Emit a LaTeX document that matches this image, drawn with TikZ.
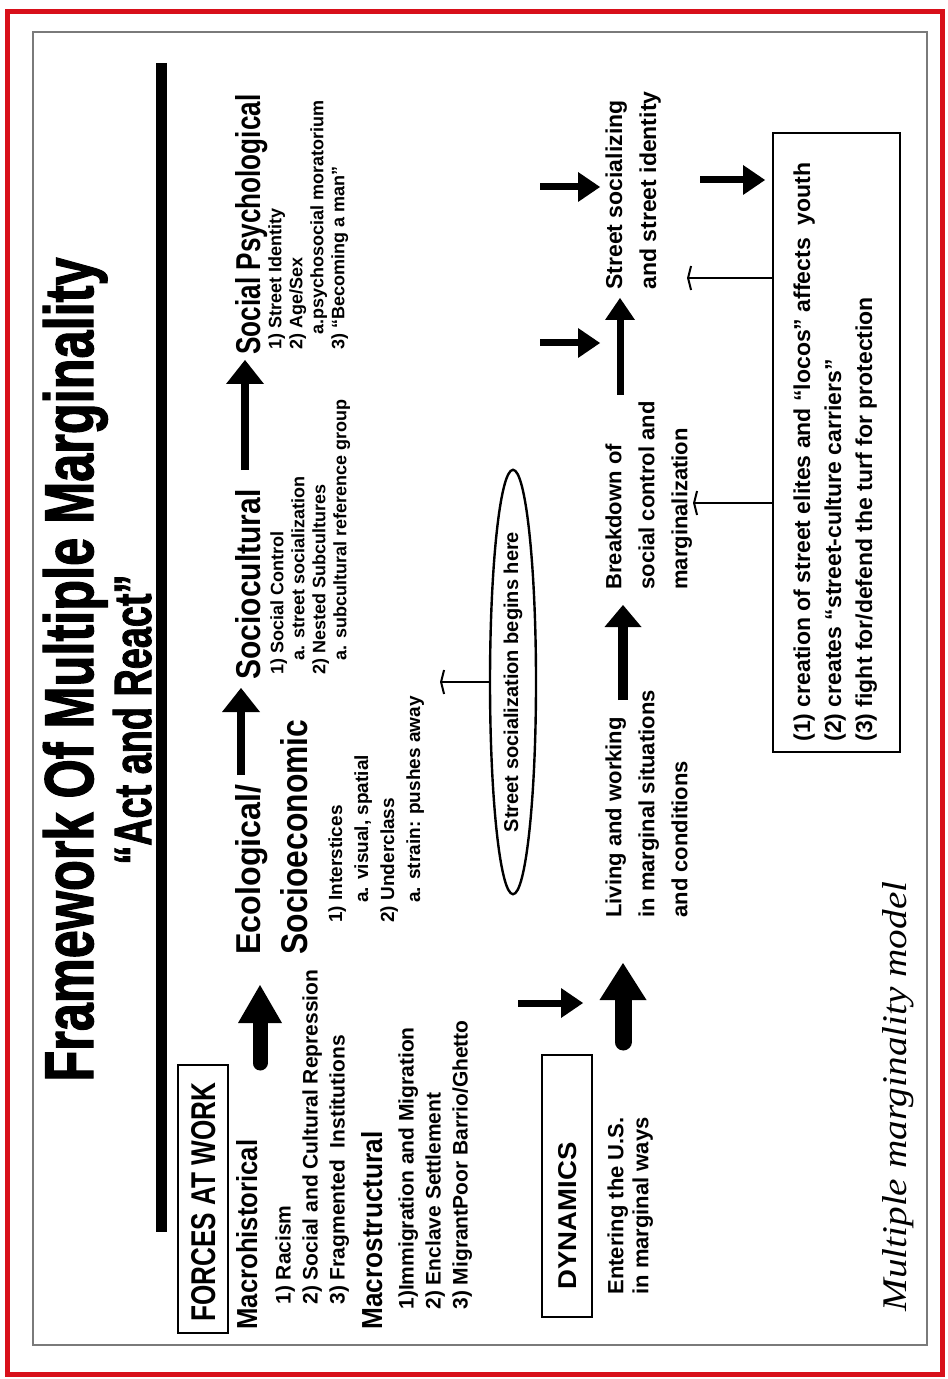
\documentclass[tikz,border=0pt]{standalone}
\usepackage{fontspec}
\setsansfont{Liberation Sans}
\newfontfamily\heavyfont{Liberation Sans}[FakeBold=2]
\newfontfamily\capfont{Liberation Serif}
\usepackage{graphicx}
\usetikzlibrary{arrows.meta,shapes.geometric}
\definecolor{framered}{HTML}{D8101A}
\definecolor{framegray}{HTML}{7A7A7A}
\tikzset{
  rot/.style={rotate=90, inner sep=0pt},
  head/.style={rot, anchor=base west},
  list/.style={rot, anchor=north west, align=left},
  fs/.style 2 args={font=\sffamily\bfseries\fontsize{#1}{#2}\selectfont},
  boxst/.style={draw, line width=1.3pt, rotate=90, inner sep=0pt},
  bigarrow/.style={line width=7.5pt, line cap=round, -{Triangle[width=22pt,length=19pt,line width=0pt]}},
  dynarrow/.style={line width=8.5pt, line cap=round, -{Triangle[width=23.5pt,length=18.5pt,line width=0pt]}},
  midarrow/.style={line width=4pt, -{Triangle[width=19pt,length=12pt,line width=0pt]}},
  livarrow/.style={line width=5pt, -{Triangle[width=18.5pt,length=11pt,line width=0pt]}},
  thinarrow/.style={line width=3.5pt, -{Triangle[width=15pt,length=11pt,line width=0pt]}},
  teearrow/.style={line width=1pt, -{Straight Barb[width=12pt,length=1.5pt]}}
}
\begin{document}
\begin{tikzpicture}[x=0.5pt,y=-0.5pt,font=\sffamily\bfseries]
\useasboundingbox (0,0) rectangle (947,1379);
\fill[white] (0,0) rectangle (947,1379);
\draw[framered, line width=2.5pt] (7,12) rectangle (942,1374);
\draw[framegray, line width=1pt] (33,32) rectangle (927,1345);
\draw[line width=5.5pt] (161,63) -- (161,1232);

% title
\node[head] (title) at (93,1082) {\resizebox{412pt}{25pt}{\heavyfont\bfseries Framework Of Multiple Marginality}};
\node[head] (subtitle) at (151,865) {\resizebox{145pt}{19pt}{\heavyfont\bfseries “Act and React”}};

% forces at work
\node[boxst, minimum width=134pt, minimum height=25pt] (forcesbox) at (203,1199) {};
\node[head] (forces) at (215,1322) {\resizebox{119.5pt}{12pt}{FORCES AT WORK}};
\node[head] (macroh) at (257,1330) {\resizebox{95pt}{10.5pt}{Macrohistorical}};
\node[list, fs={10.5pt}{13.5pt}] (histitems) at (275,1305) {1) Racism\\2) Social and Cultural Repression\\3) Fragmented\ \ Institutions};
\node[head] (macros) at (382,1330) {\resizebox{99pt}{10.5pt}{Macrostructural}};
\node[list, fs={10.5pt}{13.5pt}] (structitems) at (398,1310) {1)Immigration and Migration\\2) Enclave Settlement\\3) MigrantPoor Barrio/Ghetto};

% ecological
\node[head] (ecol) at (260,955) {\resizebox{85pt}{12.5pt}{Ecological/}};
\node[head] (socioec) at (307,955) {\resizebox{117.5pt}{13.5pt}{Socioeconomic}};
\node[list, fs={9.5pt}{13pt}] (ecolitems) at (328,923) {1) Interstices\\\hspace*{10pt}a. visual, spatial\\2) Underclass\\\hspace*{10pt}a. strain: pushes away};

% sociocultural
\node[head] (sociocult) at (260,680) {\resizebox{95pt}{12.5pt}{Sociocultural}};
\node[list, fs={9pt}{10.5pt}] (socioitems) at (270,675) {1) Social Control\\\hspace*{7pt}a. street socialization\\2) Nested Subcultures\\\hspace*{7pt}a. subcultural reference group};

% social psychological
\node[head] (socpsy) at (260,355) {\resizebox{130pt}{12.5pt}{Social Psychological}};
\node[list, fs={9pt}{10.5pt}] (socpsyitems) at (268,350) {1) Street Identity\\2) Age/Sex\\\hspace*{7.5pt}a.psychosocial moratorium\\3) “Becoming a man”};

% ellipse
\node[ellipse, draw, line width=1.2pt, rotate=90, minimum width=212pt, minimum height=23pt, inner sep=0pt, fs={10pt}{12pt}] (ell) at (513,682) {Street socialization begins here};

% dynamics
\node[boxst, minimum width=131pt, minimum height=25pt] (dynbox) at (567,1186) {};
\node[head] (dyn) at (576,1290) {\resizebox{73.5pt}{9pt}{DYNAMICS}};
\node[list, fs={11pt}{12.5pt}] (entering) at (607,1295) {Entering the U.S.\\in marginal ways};
\node[list, fs={11pt}{16.5pt}] (living) at (605,918) {Living and working\\in marginal situations\\and conditions};
\node[list, fs={11pt}{16.5pt}] (breakdown) at (605,590) {Breakdown of\\social control and\\marginalization};
\node[list, fs={11.5pt}{17pt}] (street) at (605,290) {Street socializing\\and street identity};

% effects box
\node[boxst, line width=1pt, minimum width=309.5pt, minimum height=63.5pt] (effbox) at (836.5,442.5) {};
\node[list, fs={11.5pt}{15.5pt}] (efftext) at (793,742) {(1) creation of street elites and “locos” affects\ \ youth\\(2) creates “street-culture carriers”\\(3) fight for/defend the turf for protection};

% caption
\node[head] (caption) at (906,1312) {\resizebox{215pt}{12pt}{\capfont\mdseries\itshape Multiple marginality model}};

% connector end points
\coordinate (a1s) at (260,1063); \coordinate (a1e) at (260,985);
\coordinate (a2s) at (241,775);  \coordinate (a2e) at (241,688);
\coordinate (a3s) at (245,470);  \coordinate (a3e) at (245,360);
\coordinate (t1e) at (440,682);
\coordinate (r1s) at (518,1003); \coordinate (r1e) at (583,1003);
\coordinate (a4s) at (623,1042); \coordinate (a4e) at (623,963);
\coordinate (a5s) at (623,700);  \coordinate (a5e) at (623,605);
\coordinate (a6s) at (620,395);  \coordinate (a6e) at (620,298);
\coordinate (r2s) at (540,187);  \coordinate (r2e) at (600,187);
\coordinate (r3s) at (540,343);  \coordinate (r3e) at (600,343);
\coordinate (r4s) at (700,180);  \coordinate (r4e) at (765,180);
\coordinate (t2s) at (773,278);  \coordinate (t2e) at (687,278);
\coordinate (t3s) at (773,503);  \coordinate (t3e) at (693,503);

\draw[bigarrow] (a1s) -- (a1e);
\draw[midarrow] (a2s) -- (a2e);
\draw[midarrow] (a3s) -- (a3e);
\draw[teearrow] (ell.north) -- (t1e);
\draw[thinarrow] (r1s) -- (r1e);
\draw[dynarrow] (a4s) -- (a4e);
\draw[livarrow] (a5s) -- (a5e);
\draw[thinarrow] (a6s) -- (a6e);
\draw[thinarrow] (r2s) -- (r2e);
\draw[thinarrow] (r3s) -- (r3e);
\draw[thinarrow] (r4s) -- (r4e);
\draw[teearrow] (t2s) -- (t2e);
\draw[teearrow] (t3s) -- (t3e);
\end{tikzpicture}
\end{document}
